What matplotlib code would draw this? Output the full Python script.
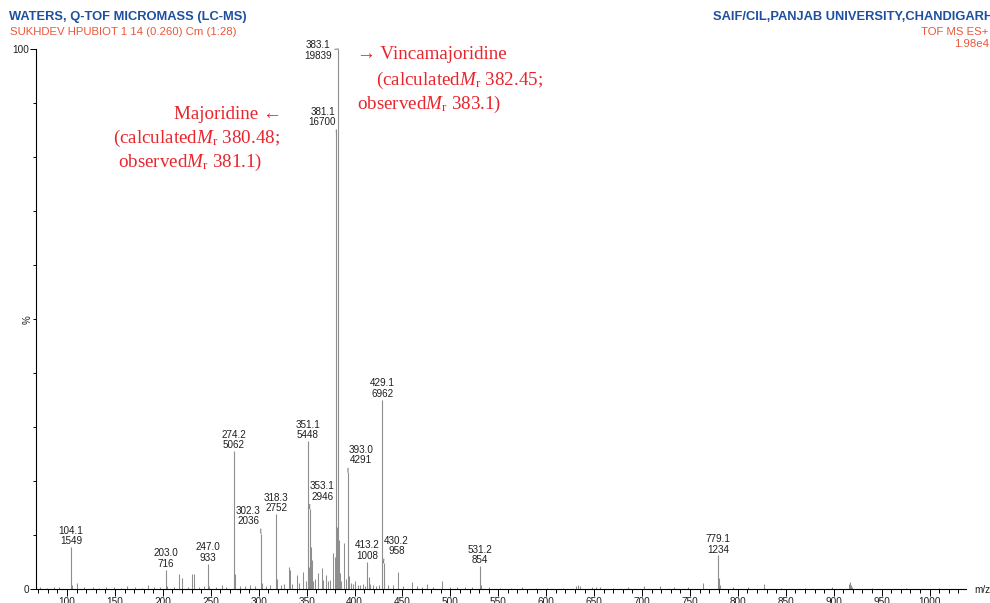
import matplotlib.pyplot as plt
from matplotlib.ticker import MultipleLocator, FixedLocator

plt.rcParams['font.family'] = ['Liberation Sans', 'DejaVu Sans']
plt.rcParams['mathtext.fontset'] = 'custom'
plt.rcParams['mathtext.rm'] = 'Liberation Serif'
plt.rcParams['mathtext.it'] = 'Liberation Serif:italic'

# base peak intensity (100 %)
base_peak = 19839

# labelled peaks: m/z and absolute intensity
label_mz = [104.1, 203.0, 247.0, 274.2, 302.3, 318.3, 351.1, 353.1,
            381.1, 383.1, 393.0, 413.2, 429.1, 430.2, 531.2, 779.1]
label_int = [1549, 716, 933, 5062, 2036, 2752, 5448, 2946,
             16700, 19839, 4291, 1008, 6962, 958, 854, 1234]

# unlabelled peaks (m/z, relative intensity %)
minor_mz = [72.1, 79.0, 86.1, 91.1, 105.1, 110.1, 118.1, 127.1, 133.1, 141.1,
            149.0, 156.1, 162.8, 171.1, 178.1, 184.8, 191.1, 197.1, 204.0, 212.1,
            217.1, 219.6, 226.1, 230.7, 232.8, 238.1, 243.1, 248.0, 255.1, 261.3,
            266.1, 275.2, 280.1, 286.1, 291.0, 296.1, 303.3, 308.1, 312.1, 319.3,
            323.1, 326.1, 331.2, 332.3, 335.1, 339.6, 342.1, 346.5, 349.1, 352.1,
            354.1, 355.1, 357.1, 359.1, 362.1, 365.7, 367.1, 370.1, 372.1, 374.3,
            377.1, 379.1, 380.1, 382.1, 384.1, 385.1, 386.1, 388.9, 391.1, 394.1,
            396.1, 398.1, 400.1, 403.1, 406.1, 409.1, 411.1, 415.1, 416.1, 419.1,
            422.1, 425.1, 431.2, 435.1, 440.1, 445.2, 450.1, 459.5, 465.1, 470.1,
            475.5, 482.1, 491.5, 499.1, 507.1, 515.1, 522.1, 532.2, 540.1, 552.1,
            563.1, 575.1, 589.1, 601.1, 617.1, 631.1, 633.1, 635.1, 648.1, 652.1,
            656.1, 670.1, 685.1, 702.1, 719.1, 733.1, 748.1, 763.8, 780.1, 781.1,
            795.1, 810.1, 827.0, 845.1, 870.1, 898.1, 915.9, 916.9, 917.9, 919.0,
            940.1, 975.1, 1010.1]
minor_pct = [0.3, 0.2, 0.3, 0.4, 0.8, 1.2, 0.3, 0.3, 0.2, 0.3,
             0.3, 0.2, 0.5, 0.3, 0.2, 0.8, 0.3, 0.3, 0.5, 0.4,
             2.8, 2.0, 0.4, 2.7, 2.7, 0.4, 0.5, 0.6, 0.4, 0.7,
             0.4, 2.8, 0.5, 0.6, 0.7, 0.5, 1.2, 0.6, 0.8, 1.9,
             0.8, 1.0, 4.1, 3.6, 1.0, 2.6, 1.2, 3.2, 1.5, 4.0,
             7.8, 5.4, 1.5, 1.8, 3.0, 3.9, 1.6, 2.6, 1.4, 1.7,
             6.6, 2.0, 6.0, 11.5, 9.0, 3.0, 1.5, 8.6, 1.8, 2.5,
             1.2, 1.0, 1.5, 0.8, 0.7, 0.9, 0.6, 2.2, 1.0, 0.7,
             0.6, 0.8, 1.2, 0.7, 0.8, 3.2, 0.6, 1.3, 0.5, 0.4,
             0.9, 0.4, 1.4, 0.4, 0.3, 0.3, 0.3, 0.8, 0.3, 0.2,
             0.2, 0.3, 0.2, 0.2, 0.2, 0.6, 0.7, 0.5, 0.4, 0.4,
             0.3, 0.2, 0.3, 0.5, 0.5, 0.3, 0.3, 1.2, 2.0, 0.8,
             0.3, 0.3, 0.9, 0.2, 0.2, 0.3, 1.0, 1.3, 0.8, 0.4,
             0.2, 0.2, 0.2]

# label offsets (pixels) for peaks whose labels are pushed aside with a leader
leader_offsets = {
    383.1: (-20, -1.5, (1.0, 0.55)),
    381.1: (-14, 17.7, (1.0, 0.0)),
    353.1: (12.6, 17.5, (0.0, 0.0)),
    302.3: (-12.7, 17.6, (1.0, 0.0)),
    393.0: (12.8, 17.0, (0.0, 0.0)),
    430.2: (13.0, 17.0, (0.0, 0.0)),
}

W, H = 990, 603
BLUE = '#1f4f9f'
ORANGE = '#e9563c'
RED = '#e8242c'
PEAK = '#8e8e8e'
INK = '#1e1e1e'

fig = plt.figure(figsize=(W / 100, H / 100), dpi=100)
ax = fig.add_axes([36 / W, 1 - 589 / H, 930 / W, 540 / H])
ax.set_xlim(67.6, 1038)
ax.set_ylim(0, 100)

ax.vlines(minor_mz, 0, minor_pct, color=PEAK, lw=0.75, clip_on=False)
label_pct = [v / base_peak * 100 for v in label_int]
ax.vlines(label_mz, 0, label_pct, color=PEAK, lw=0.8, clip_on=False)

for mz, inten, pct in zip(label_mz, label_int, label_pct):
    txt = f'{mz:.1f}\n{inten}'
    if mz in leader_offsets:
        dx, dy, rel = leader_offsets[mz]
        ann = ax.annotate(txt, xy=(mz, pct), xytext=(dx, dy), textcoords='offset pixels',
                          ha='center', va='center', fontsize=7.1, linespacing=1.05,
                          color=INK, annotation_clip=False,
                          arrowprops=dict(arrowstyle='-', color='#7a7a7a', lw=0.75,
                                          shrinkA=0, shrinkB=0, relpos=rel))
        ann.arrow_patch.set_patchA(None)
    else:
        ax.annotate(txt, xy=(mz, pct), xytext=(0, 11), textcoords='offset pixels',
                    ha='center', va='center', fontsize=7.1, linespacing=1.05,
                    color=INK, annotation_clip=False)

for side in ['top', 'right']:
    ax.spines[side].set_visible(False)
for side in ['left', 'bottom']:
    ax.spines[side].set_linewidth(0.8)

ax.xaxis.set_major_locator(MultipleLocator(50))
ax.xaxis.set_minor_locator(MultipleLocator(10))
ax.yaxis.set_major_locator(FixedLocator([0, 100]))
ax.yaxis.set_minor_locator(MultipleLocator(10))
ax.tick_params(axis='x', which='major', length=5, width=0.7, pad=1, labelsize=7.2,
               labelcolor=INK)
ax.tick_params(axis='x', which='minor', length=3, width=0.7)
ax.tick_params(axis='y', which='major', length=4.5, width=0.7, pad=0.5, labelsize=7.2,
               labelcolor=INK)
ax.tick_params(axis='y', which='minor', length=2.3, width=0.7)

fig.text(28 / W, 1 - 320 / H, '%', rotation=90, ha='center', va='center',
         fontsize=7, color=INK)
fig.text(974 / W, 1 - 590 / H, 'm/z', ha='left', va='center', fontsize=7.2,
         color=INK)

# instrument header
fig.text(9 / W, 1 - 17.3 / H, 'WATERS, Q-TOF MICROMASS (LC-MS)', ha='left',
         va='center', fontsize=9.3, fontweight='bold', color=BLUE)
fig.text(10 / W, 1 - 32.3 / H, 'SUKHDEV HPUBIOT 1 14 (0.260) Cm (1:28)', ha='left',
         va='center', fontsize=8.2, color=ORANGE)
fig.text(993 / W, 1 - 17.3 / H, 'SAIF/CIL,PANJAB UNIVERSITY,CHANDIGARH', ha='right',
         va='center', fontsize=9.3, fontweight='bold', color=BLUE)
fig.text(988 / W, 1 - 32 / H, 'TOF MS ES+', ha='right', va='center',
         fontsize=8.2, color=ORANGE)
fig.text(989 / W, 1 - 44 / H, '1.98e4', ha='right', va='center',
         fontsize=8.2, color=ORANGE)

# compound annotations
serif = ['Liberation Serif', 'DejaVu Serif']
anno = dict(fontsize=13.7, color=RED, family=serif, va='baseline')
fig.text(357 / W, 1 - 59 / H, '\u2192 Vincamajoridine', ha='left', **anno)
fig.text(376 / W, 1 - 85 / H, r'(calculated$M_\mathrm{r}$ 382.45;', ha='left', **anno)
fig.text(357 / W, 1 - 109 / H, r'observed$M_\mathrm{r}$ 383.1)', ha='left', **anno)
fig.text(282 / W, 1 - 119.3 / H, 'Majoridine \u2190', ha='right', **anno)
fig.text(113 / W, 1 - 143.3 / H, r'(calculated$M_\mathrm{r}$ 380.48;', ha='left', **anno)
fig.text(118 / W, 1 - 167.3 / H, r'observed$M_\mathrm{r}$ 381.1)', ha='left', **anno)

fig.savefig('out.png', dpi=100)
